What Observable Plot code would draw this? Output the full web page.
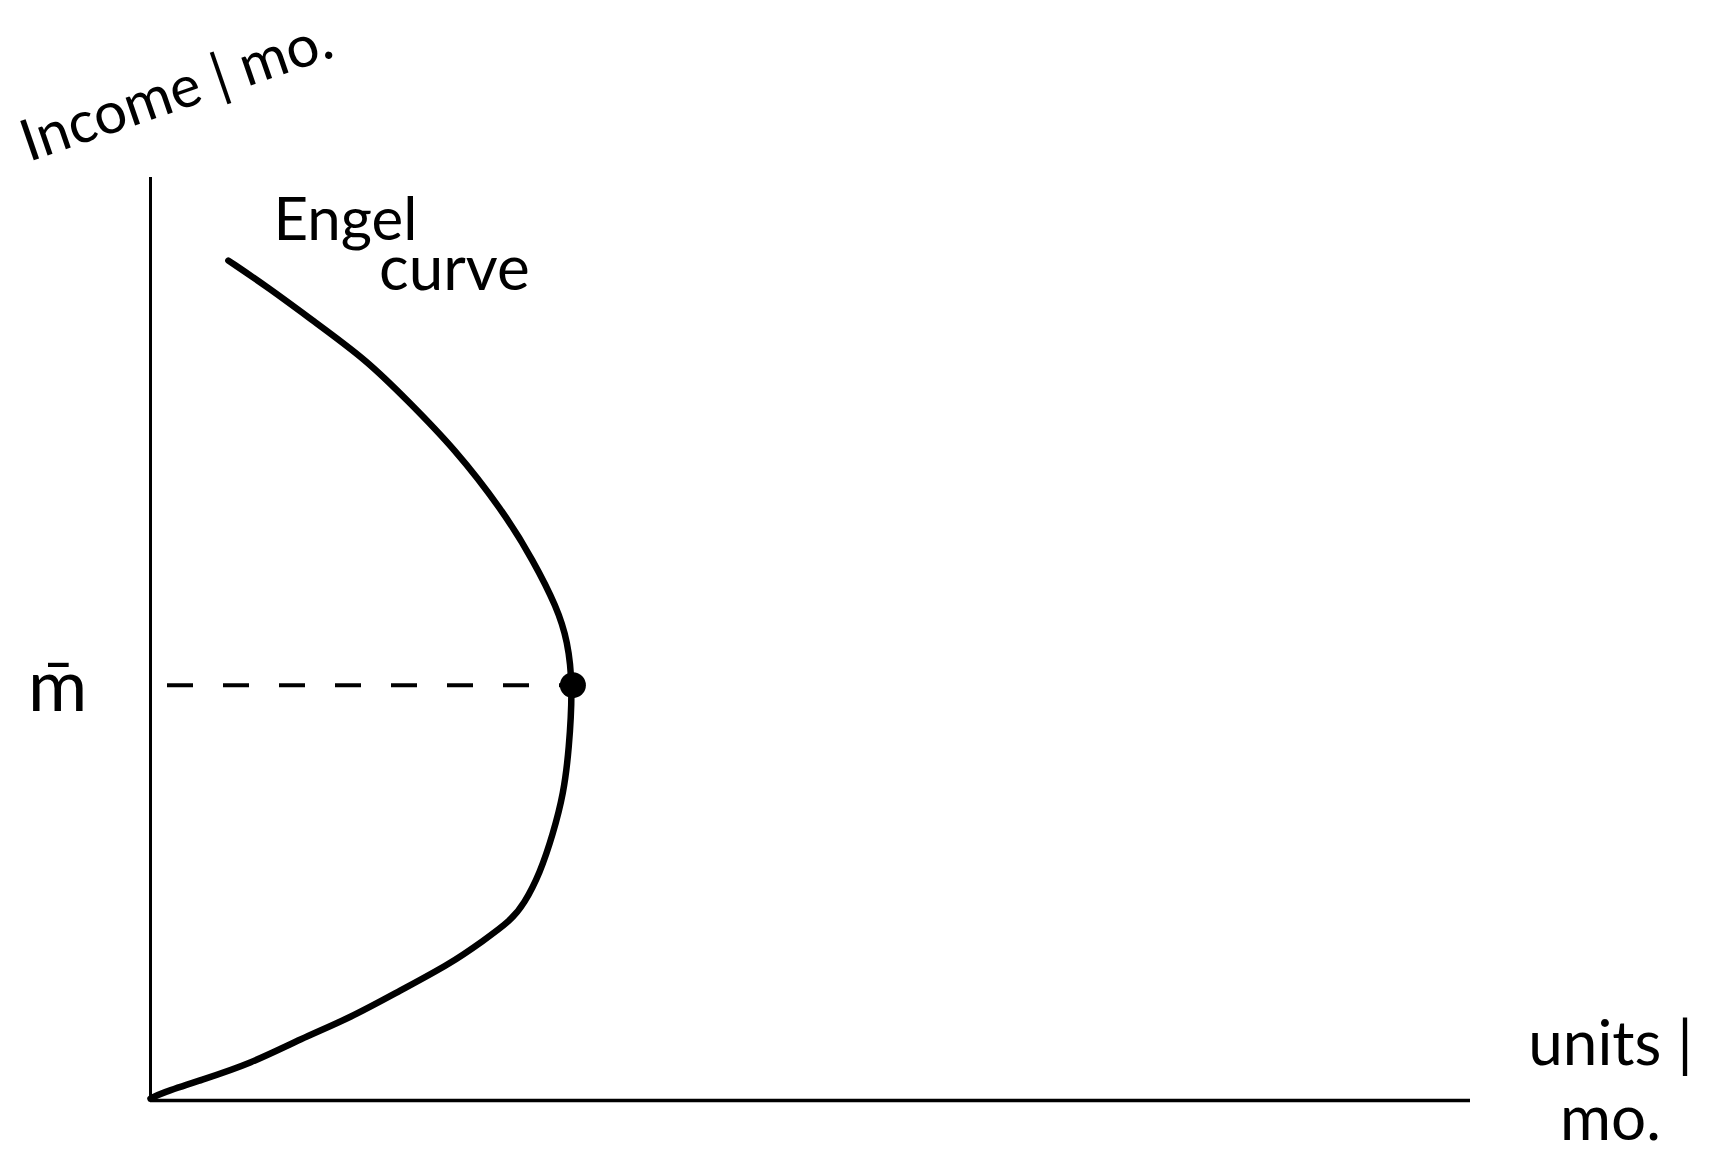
<!DOCTYPE html>
<html>
<head>
<meta charset="utf-8">
<script src="https://cdn.jsdelivr.net/npm/d3@7"></script>
<script src="https://cdn.jsdelivr.net/npm/@observablehq/plot@0.6"></script>
<style>
  html, body { margin: 0; padding: 0; background: #fff; }
  #chart svg { display: block; }
</style>
</head>
<body>
<div id="chart"></div>
<script>
// Engel curve (units/mo. vs income/mo., arbitrary scale 0..100)
const units  = [5.9, 8.9, 12.3, 16.4, 19.5, 23.0, 26.7, 29.0, 30.8, 31.6, 32.0, 31.7, 31.3, 30.5, 29.5, 28.3, 27.3, 25.2, 22.7, 18.9, 15.2, 11.4, 7.6, 3.8, 0.8, 0];
const income = [91.0, 88.1, 84.5, 80.2, 75.8, 70.7, 63.9, 58.5, 53.4, 49.8, 45.0, 37.9, 33.3, 28.9, 24.6, 21.3, 19.5, 17.3, 14.8, 11.9, 9.0, 6.7, 4.0, 2.2, 0.8, 0.2];

// the turning point at income m-bar
const mBar = [45.0];
const peakUnits = [32.0];

const font = "Lato, 'Open Sans', sans-serif";
const ink = "#000";

const chart = Plot.plot({
  width: 1714,
  height: 1171,
  marginLeft: 150,
  marginRight: 244,
  marginTop: 177,
  marginBottom: 71,
  style: {background: "#fff", fontFamily: font},
  x: {domain: [0, 100], axis: null},
  y: {domain: [0, 100], axis: null},
  marks: [
    // axes drawn by hand
    Plot.ruleX([0], {y1: 0, y2: 100, stroke: ink, strokeWidth: 3}),
    Plot.ruleY([0], {x1: 0, x2: 100, stroke: ink, strokeWidth: 3.5}),

    // dashed guide from the y axis to the peak
    Plot.ruleY(mBar, {x1: 0, x2: peakUnits[0], stroke: ink, strokeWidth: 4,
      strokeDasharray: "26,30", strokeDashoffset: -17}),

    // basis smooths out the small wobbles of the read-off points
    Plot.line({length: units.length}, {x: units, y: income, stroke: ink,
      strokeWidth: 6.5, curve: "basis", strokeLinecap: "round"}),

    Plot.dot(mBar, {x: peakUnits, y: d => d, r: 13, fill: ink}),

    // labels
    Plot.text(["Income | mo."], {x: 0, y: 100, dx: 26, dy: -86, rotate: -19,
      fontSize: 58, fill: ink, textAnchor: "middle"}),
    Plot.text(["units |\nmo."], {x: 100, y: 0, dx: 140, dy: -22, fontSize: 62,
      lineHeight: 1.2, fill: ink, textAnchor: "middle"}),
    Plot.text(mBar, {x: 0, y: d => d, dx: -93, dy: 3, text: () => "m\u0304",
      fontSize: 72, fill: ink, textAnchor: "middle"}),
    Plot.text(["Engel"], {x: units[0], y: income[0], dx: 117, dy: -40,
      fontSize: 60, fill: ink, textAnchor: "middle"}),
    Plot.text(["curve"], {x: units[0], y: income[0], dx: 226, dy: 10,
      fontSize: 62, fill: ink, textAnchor: "middle"})
  ]
});

document.getElementById("chart").append(chart);
</script>
</body>
</html>
